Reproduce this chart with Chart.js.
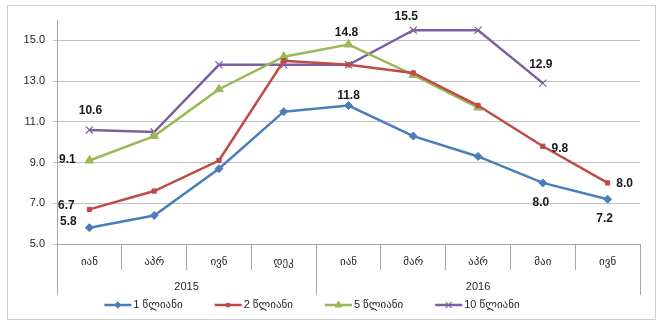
<!DOCTYPE html>
<html><head><meta charset="utf-8">
<script src="https://cdn.jsdelivr.net/npm/chart.js@4"></script>
<style>html,body{margin:0;padding:0;background:#fff;overflow:hidden}</style>
</head><body>
<canvas id="c" width="663" height="327" style="display:block;width:663px;height:327px"></canvas>
<script>
// ---- data ----
const months = ['იან','აპრ','ივნ','დეკ','იან','მარ','აპრ','მაი','ივნ'];
const years = ['2015','2016'];
const yearSpans = [4,5];
const seriesNames = ['1 წლიანი','2 წლიანი','5 წლიანი','10 წლიანი'];
const oneYear  = [5.8,6.4,8.7,11.5,11.8,10.3,9.3,8.0,7.2];
const twoYear  = [6.7,7.6,9.1,14.0,13.8,13.4,11.8,9.8,8.0];
const fiveYear = [9.1,10.3,12.6,14.2,14.8,13.3,11.7,null,null];
const tenYear  = [10.6,10.5,13.8,13.8,13.8,15.5,15.5,12.9,null];
const yTicks = [5,7,9,11,13,15];

// which points carry a value label: [dataset, index, dx, dy]
const labelSpecs = [
  [0,0,-21,-6],[0,4,0,-10],[0,7,-2,20],[0,8,-3,19],
  [1,0,-23,-4],[1,7,17,2],[1,8,17,1],
  [2,0,-22,-1],[2,4,-2,-12],
  [3,0,1,-19],[3,5,-7,-13],[3,7,-2,-18]
];

const FONT = "'Liberation Sans','DejaVu Sans',Arial,sans-serif";
const GRID = '#c0c0c0';
const AXIS = '#a6a6a6';
const TXT = '#262626';

const frame = {
  id:'frame',
  beforeDraw(chart){
    const ctx = chart.ctx;
    ctx.save();
    ctx.fillStyle='#fff'; ctx.fillRect(0,0,chart.width,chart.height);
    ctx.strokeStyle='#d0d0d0'; ctx.lineWidth=1;
    ctx.strokeRect(7.5,5.5,648,314);
    ctx.restore();
  }
};

const yearRow = {
  id:'yearRow',
  afterDraw(chart){
    const ctx = chart.ctx, xs = chart.scales.x, ca = chart.chartArea;
    const step = xs.getPixelForValue(1) - xs.getPixelForValue(0);
    ctx.save();
    ctx.strokeStyle = AXIS; ctx.lineWidth = 1;
    ctx.fillStyle = TXT; ctx.font = '11px '+FONT;
    ctx.textAlign='center'; ctx.textBaseline='middle';
    let start = 0;
    years.forEach((y,k)=>{
      const x0 = xs.getPixelForValue(start) - step/2;
      const x1 = xs.getPixelForValue(start+yearSpans[k]-1) + step/2;
      [x0,x1].forEach(x=>{
        const px = Math.round(x)+0.5;
        ctx.beginPath(); ctx.moveTo(px, ca.bottom); ctx.lineTo(px, 295); ctx.stroke();
      });
      ctx.fillText(y,(x0+x1)/2,287);
      start += yearSpans[k];
    });
    ctx.restore();
  }
};

const valueLabels = {
  id:'valueLabels',
  afterDatasetsDraw(chart){
    const ctx = chart.ctx;
    ctx.save();
    ctx.font = 'bold 12px '+FONT;
    ctx.fillStyle = '#1a1a1a';
    ctx.textAlign='center'; ctx.textBaseline='middle';
    labelSpecs.forEach(([d,i,dx,dy])=>{
      const el = chart.getDatasetMeta(d).data[i];
      const v = chart.data.datasets[d].data[i];
      if (el && v!=null) ctx.fillText(v.toFixed(1), el.x+dx, el.y+dy);
    });
    ctx.restore();
  }
};

const lineLegend = {
  id:'lineLegend',
  afterDraw(chart){
    const ctx = chart.ctx;
    ctx.save();
    ctx.font = '11px '+FONT;
    const sample = 27, gap = 2, between = 32;
    const items = chart.data.datasets.map(ds=>({ds, w: ctx.measureText(ds.label).width}));
    const total = items.reduce((s,it)=>s+sample+gap+it.w,0) + between*(items.length-1);
    let x = 312 - total/2;
    const y = 305;
    items.forEach(({ds,w})=>{
      ctx.strokeStyle = ds.borderColor; ctx.lineWidth = 2.5;
      ctx.beginPath(); ctx.moveTo(x,y); ctx.lineTo(x+sample,y); ctx.stroke();
      ctx.fillStyle = ds.pointBackgroundColor; ctx.strokeStyle = ds.pointBorderColor;
      ctx.lineWidth = ds.pointBorderWidth;
      Chart.helpers.drawPoint(ctx,{pointStyle:ds.pointStyle,radius:ds.pointRadius*0.8,rotation:0,borderWidth:ds.pointBorderWidth},x+sample/2,y);
      ctx.fillStyle = TXT; ctx.textAlign='left'; ctx.textBaseline='middle';
      ctx.fillText(ds.label, x+sample+gap, y);
      x += sample+gap+w+between;
    });
    ctx.restore();
  }
};

function series(label, data, color, style, radius, bw){
  return {label, data, borderColor:color, backgroundColor:color,
    pointBackgroundColor:color, pointBorderColor:color, pointStyle:style,
    pointRadius:radius, pointHoverRadius:radius, pointBorderWidth:bw,
    borderWidth:2.5, tension:0, fill:false, spanGaps:false};
}

new Chart(document.getElementById('c'),{
  type:'line',
  data:{
    labels: months,
    datasets:[
      series(seriesNames[0], oneYear, '#4a7ebb','rectRot',4,1),
      series(seriesNames[1], twoYear, '#be4b48','rect',3,1),
      series(seriesNames[2], fiveYear,'#98b954','triangle',5,1),
      series(seriesNames[3], tenYear, '#7d60a0','crossRot',5,1.2)
    ]
  },
  options:{
    responsive:false, animation:false, devicePixelRatio:1,
    layout:{padding:{top:20,right:23,left:0,bottom:0}},
    plugins:{legend:{display:false}, tooltip:{enabled:false}},
    scales:{
      x:{
        type:'category', offset:true,
        grid:{display:true, drawOnChartArea:false, drawTicks:true, tickLength:26, color:AXIS, offset:true},
        border:{display:true, color:AXIS},
        ticks:{font:{size:11,family:FONT}, color:TXT, padding:-15, maxRotation:0, autoSkip:false},
        afterFit(s){ s.height = 83; }
      },
      y:{
        min:5, max:16,
        afterBuildTicks(s){ s.ticks = yTicks.map(v=>({value:v})); },
        grid:{color:GRID, tickLength:4, drawTicks:true},
        border:{display:true, color:AXIS},
        ticks:{font:{size:11,family:FONT}, color:TXT, padding:8, callback:v=>Number(v).toFixed(1)},
        afterFit(s){ s.width = 57; }
      }
    }
  },
  plugins:[frame, yearRow, valueLabels, lineLegend]
});
</script>
</body></html>
